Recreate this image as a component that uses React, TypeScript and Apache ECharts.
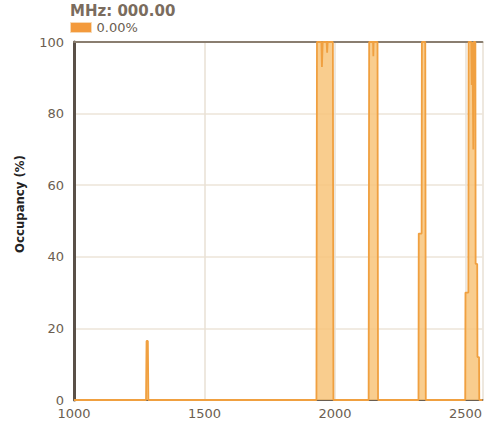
import React, { useEffect, useRef } from "react";
import * as echarts from "echarts";

const freqMHz = [
  1000, 1276, 1278, 1283, 1285,
  1929, 1931, 1948, 1950, 1953, 1968, 1970, 1972, 1992, 1994,
  2129, 2131, 2146, 2147, 2148, 2163, 2165,
  2320, 2321, 2332, 2333, 2346, 2348,
  2499, 2500, 2511, 2512, 2522, 2524, 2527, 2530, 2532, 2538, 2539, 2545, 2546, 2552, 2553,
  2565,
];
const occupancy = [
  0, 0, 16.5, 16.5, 0,
  0, 100, 100, 93, 100, 100, 97, 100, 100, 0,
  0, 100, 100, 96, 100, 100, 0,
  0, 46.5, 46.5, 100, 100, 0,
  0, 30, 30, 100, 100, 88, 100, 70, 100, 100, 38, 38, 12, 12, 0,
  0,
];
const xTicks = [1000, 1500, 2000, 2500];
const yTicks = [0, 20, 40, 60, 80, 100];
const titleText = "MHz: 000.00";
const legendText = "0.00%";
const yAxisName = "Occupancy (%)";

export default function App() {
  const ref = useRef<HTMLDivElement>(null);
  useEffect(() => {
    if (!ref.current) return;
    const chart = echarts.init(ref.current, undefined, { renderer: "svg" });
    const data = freqMHz.map((f, i) => [f, occupancy[i]]);
    chart.setOption({
      animation: false,
      title: {
        text: titleText,
        left: 70,
        top: 2,
        padding: 0,
        textStyle: { fontFamily: "DejaVu Sans", fontSize: 15, fontWeight: "bold", color: "#7a6c5e", lineHeight: 18 },
      },
      legend: {
        left: 70,
        top: 21,
        padding: 0,
        itemWidth: 21,
        itemHeight: 10,
        itemGap: 6,
        icon: "rect",
        textStyle: { fontFamily: "DejaVu Sans", fontSize: 13, color: "#6b5e50" },
        data: [{ name: legendText, itemStyle: { color: "#f39a3c", borderColor: "#f7d9b5", borderWidth: 1 } }],
      },
      graphic: [
        {
          type: "text",
          x: 19,
          y: 204,
          rotation: Math.PI / 2,
          style: {
            text: yAxisName,
            fontFamily: "Liberation Sans Narrow, DejaVu Sans Condensed, sans-serif",
            fontSize: 13,
            fontWeight: "bold",
            fill: "#222",
            align: "center",
            verticalAlign: "middle",
          },
        },
      ],
      grid: {
        left: 74,
        right: 0,
        top: 42,
        bottom: 22,
      },
      xAxis: [
        {
          type: "value",
          min: xTicks[0],
          max: 2565,
          interval: 500,
          axisLine: { lineStyle: { color: "#6b5e50", width: 2 } },
          axisTick: { show: false },
          axisLabel: {
            fontFamily: "DejaVu Sans",
            fontSize: 13,
            lineHeight: 12,
            color: "#6b5e50",
            margin: 7,
            showMaxLabel: false,
            formatter: (v: number) => (xTicks.includes(v) ? String(v) : ""),
          },
          splitLine: { show: true, lineStyle: { color: "#e8e1d4", width: 1.5 } },
        },
        {
          type: "value",
          position: "top",
          min: xTicks[0],
          max: 2565,
          interval: 500,
          axisLine: { show: true, lineStyle: { color: "#8a7e70", width: 2 } },
          axisTick: { show: false },
          axisLabel: { show: false },
          splitLine: { show: false },
        },
      ],
      yAxis: {
        type: "value",
        min: yTicks[0],
        max: yTicks[yTicks.length - 1],
        interval: 20,
        axisLine: { show: true, lineStyle: { color: "#5a5048", width: 3 } },
        axisTick: { show: false },
        axisLabel: { fontFamily: "DejaVu Sans", fontSize: 13, lineHeight: 12, color: "#6b5e50", margin: 10 },
        splitLine: { show: true, lineStyle: { color: "#ece5d8", width: 1.5 } },
      },
      series: [
        {
          name: legendText,
          type: "line",
          xAxisIndex: 0,
          data,
          symbol: "none",
          clip: true,
          itemStyle: { color: "#f39a3c" },
          lineStyle: { color: "#f0a040", width: 1.8 },
          areaStyle: { color: "#f8c47a", opacity: 0.85 },
        },
      ],
    });
    return () => chart.dispose();
  }, []);
  return (
    <div
      ref={ref}
      style={{ position: "fixed", left: 0, top: 0, width: 485, height: 422, background: "#fff" }}
    />
  );
}
